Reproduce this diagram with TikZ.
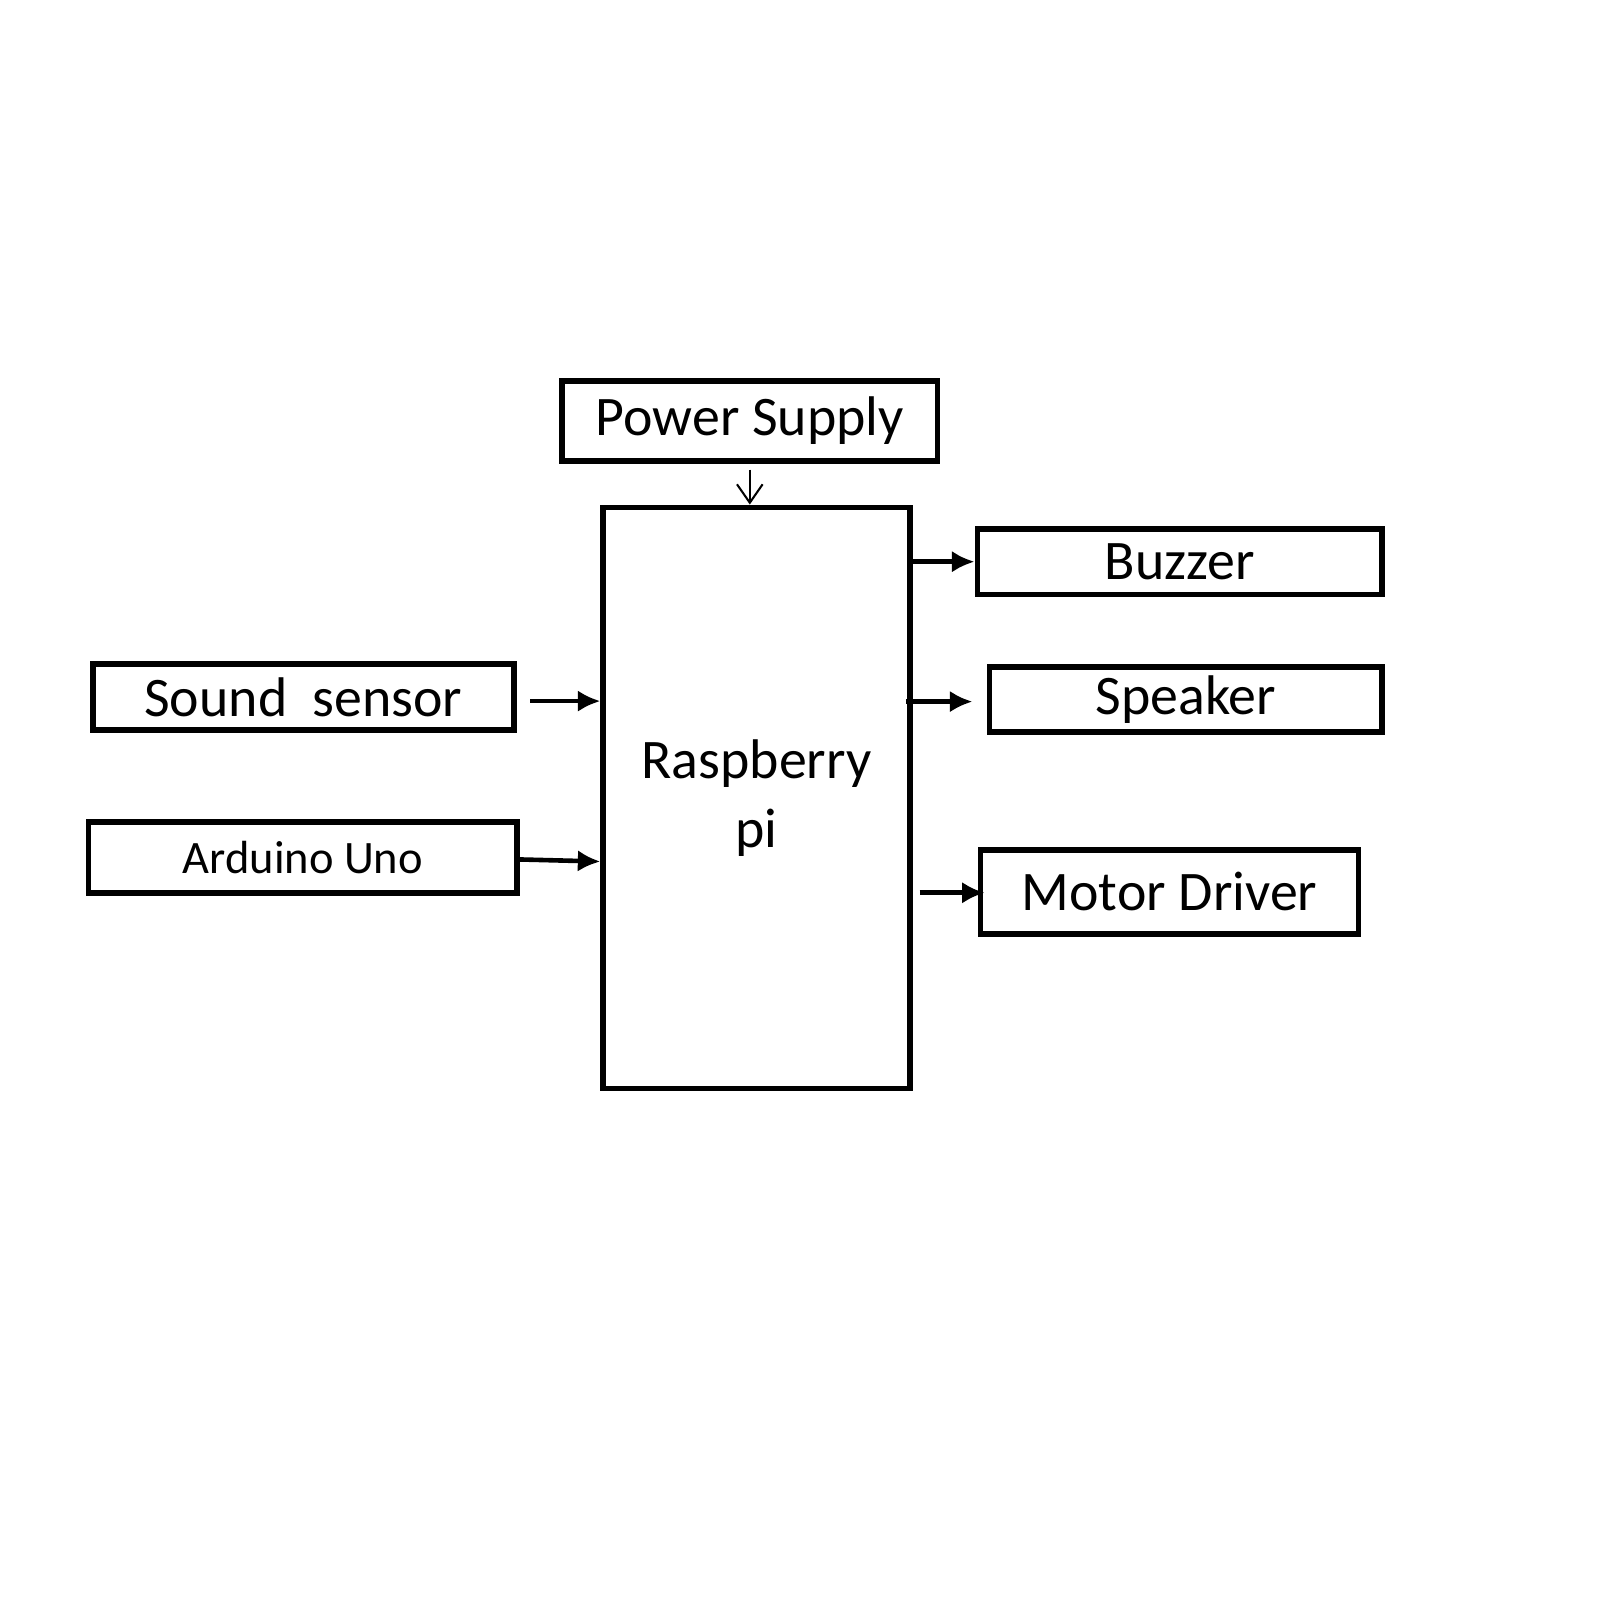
\documentclass[tikz,border=0pt]{standalone}
\usepackage{fontspec}
\setmainfont{Carlito}
\usetikzlibrary{arrows.meta}

\tikzset{
  blockbox/.style={draw, line width=0.055cm, inner sep=0pt, font=\fontsize{15.5}{19.3}\selectfont},
  sigarrow/.style={line width=0.045cm, -{Latex[length=0.22cm,width=0.21cm]}},
  pwrarrow/.style={line width=0.02cm, -{Straight Barb[length=0.18cm,width=0.25cm]}}
}

\begin{document}
\begin{tikzpicture}
      \useasboundingbox (0.035,-0.04) rectangle (15.635,-15.64);

      \node[blockbox, minimum width=3.66cm, minimum height=0.78cm] (pwr) at(7.35,-4.145){Power Supply};
      \node[blockbox, minimum width=2.99cm, minimum height=5.67cm, align=center] (rpi) at(7.415,-7.825){Raspberry\\pi};

      \node[blockbox, minimum width=4.11cm, minimum height=0.64cm] (snd) at(2.995,-6.84){Sound\ \ sensor};
      \node[blockbox, minimum width=4.18cm, minimum height=0.69cm, font=\fontsize{12.9}{15}\selectfont] (ard) at(2.99,-8.405){Arduino Uno};

      \node[blockbox, minimum width=3.95cm, minimum height=0.64cm] (buz) at(11.545,-5.52){Buzzer};
      \node[blockbox, minimum width=3.83cm, minimum height=0.63cm] (spk) at(11.605,-6.865){Speaker};
      \node[blockbox, minimum width=3.69cm, minimum height=0.82cm] (mot) at(11.445,-8.74){Motor Driver};

      \draw[pwrarrow, shorten <=0.06cm] (pwr.south) -- (pwr.south |- rpi.north);

      \draw[sigarrow, shorten <=0.13cm] ([yshift=-0.04cm]snd.east) -- ([yshift=-0.04cm]rpi.west |- snd.east);
      \draw[sigarrow] ([yshift=-0.02cm]ard.east) -- ([yshift=-0.04cm]rpi.west |- ard.east);

      \draw[sigarrow] (rpi.east |- buz.west) -- (buz.west);
      \draw[sigarrow, shorten <=-0.06cm, shorten >=0.14cm] ([yshift=-0.02cm]rpi.east |- spk.west) -- ([yshift=-0.02cm]spk.west);
      \draw[sigarrow, shorten <=0.07cm, shorten >=-0.07cm] ([yshift=-0.01cm]rpi.east |- mot.west) -- ([yshift=-0.01cm]mot.west);

    \end{tikzpicture}
\end{document}
